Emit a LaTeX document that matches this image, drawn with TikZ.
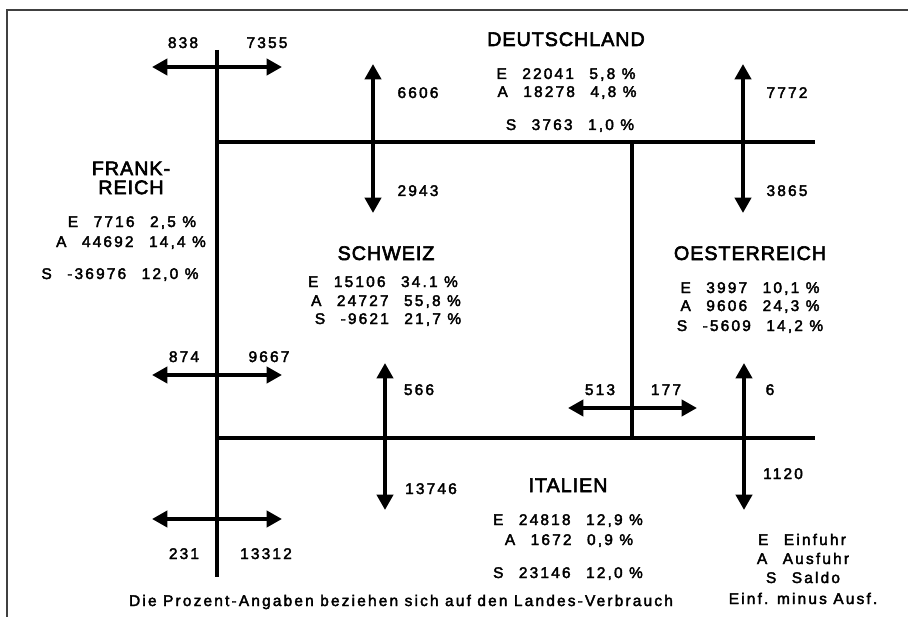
\documentclass[tikz,border=0pt]{standalone}
\usepackage{fontspec}
\usetikzlibrary{arrows.meta}
\newfontfamily\landfont{Liberation Sans}[LetterSpace=5,FakeBold=3]
\newfontfamily\numfont{Liberation Sans}[LetterSpace=14,FakeBold=2.5]

\begin{document}
\begin{tikzpicture}[x=0.025cm,y=-0.025cm,
  >={Triangle[length=11pt,width=11.5pt]},
  border/.style={line width=2.6pt},
  flow/.style={line width=3.3pt,<->},
  land/.style={font=\landfont\fontsize{14}{13.5}\selectfont,inner sep=0pt,anchor=base},
  num/.style={font=\numfont\fontsize{11}{13}\selectfont,inner sep=0pt,anchor=base}]
  \useasboundingbox (0,0) rectangle (908,617);
  % page frame
  \coordinate (pg-bl) at (7,617); \coordinate (pg-tl) at (7,10); \coordinate (pg-tr) at (908,10);
  \draw[line width=1.1pt,black!75] (pg-bl) -- (pg-tl) -- (pg-tr);
  % borders
  \coordinate (fr-top) at (217,50); \coordinate (fr-bot) at (217,577);
  \coordinate (de-w) at (217,142); \coordinate (de-e) at (815,142);
  \coordinate (it-w) at (217,438); \coordinate (it-e) at (815,438);
  \coordinate (at-n) at (632,142); \coordinate (at-s) at (632,438);
  \draw[border] (fr-top) -- (fr-bot);
  \draw[border] (de-w) -- (de-e);
  \draw[border] (it-w) -- (it-e);
  \draw[border] (at-n) -- (at-s);
  % flows across the borders
  \foreach \n/\xa/\ya/\xb/\yb in {fr1/152/67/282/67, fr2/152/375/282/375, fr3/152/519/282/519,
      de1/373/64/373/213, de2/743/64/743/213, it1/385/363/385/510, it2/744/363/744/510,
      at1/568/408/697/408}{
    \coordinate (\n-a) at (\xa,\ya);
    \coordinate (\n-b) at (\xb,\yb);
    \draw[flow] (\n-a) -- (\n-b);
  }
  % flow values
  \node[num] (fr1-w) at (183,48) {838};
  \node[num] (fr1-e) at (267,48) {7355};
  \node[num] (fr2-w) at (184,362) {874};
  \node[num] (fr2-e) at (269,362) {9667};
  \node[num] (fr3-w) at (184,559) {231};
  \node[num] (fr3-e) at (266,559) {13312};
  \node[num] (de1-n) at (418,98) {6606};
  \node[num] (de1-s) at (418,196) {2943};
  \node[num] (de2-n) at (787,98) {7772};
  \node[num] (de2-s) at (787,196) {3865};
  \node[num] (it1-n) at (419,395) {566};
  \node[num] (it1-s) at (431,494) {13746};
  \node[num] (at1-w) at (600,395) {513};
  \node[num] (at1-e) at (666,395) {177};
  \node[num] (it2-n) at (770,395) {6};
  \node[num] (it2-s) at (783,479) {1120};
  % Deutschland
  \node[land] (de) at (566,46) {DEUTSCHLAND};
  \node[num] (de-E) at (566,79) {E\quad 22041\quad 5,8 \%};
  \node[num] (de-A) at (567,97) {A\quad 18278\quad 4,8 \%};
  \node[num] (de-S) at (570,130) {S\quad 3763\quad 1,0 \%};
  % Frankreich
  \node[land,anchor=center,align=center] (fr) at (131,178) {FRANK-\\REICH};
  \node[num] (fr-E) at (132,227) {E\quad 7716\quad 2,5 \%};
  \node[num] (fr-A) at (131,247) {A\quad 44692\quad 14,4 \%};
  \node[num] (fr-S) at (120,279) {S\quad -36976\quad 12,0 \%};
  % Schweiz
  \node[land] (ch) at (386,260) {SCHWEIZ};
  \node[num] (ch-E) at (383,287) {E\quad 15106\quad 34.1 \%};
  \node[num] (ch-A) at (386,306) {A\quad 24727\quad 55,8 \%};
  \node[num] (ch-S) at (388,324) {S\quad -9621\quad 21,7 \%};
  % Oesterreich
  \node[land] (at) at (750,260) {OESTERREICH};
  \node[num] (at-E) at (750,293) {E\quad 3997\quad 10,1 \%};
  \node[num] (at-A) at (750,311) {A\quad 9606\quad 24,3 \%};
  \node[num] (at-S) at (750,331) {S\quad -5609\quad 14,2 \%};
  % Italien
  \node[land] (it) at (568,492) {ITALIEN};
  \node[num] (it-E) at (568,525) {E\quad 24818\quad 12,9 \%};
  \node[num] (it-A) at (569,545) {A\quad 1672\quad 0,9 \%};
  \node[num] (it-S) at (568,578) {S\quad 23146\quad 12,0 \%};
  % legend and note
  \node[num] (key-E) at (802,545) {E\quad Einfuhr};
  \node[num] (key-A) at (803,564) {A\quad Ausfuhr};
  \node[num] (key-S) at (803,583) {S\quad Saldo};
  \node[num] (key-d) at (803,604) {Einf. minus Ausf.};
  \node[num] (note) at (401,606) {Die Prozent-Angaben beziehen sich auf den Landes-Verbrauch};
\end{tikzpicture}
\end{document}
